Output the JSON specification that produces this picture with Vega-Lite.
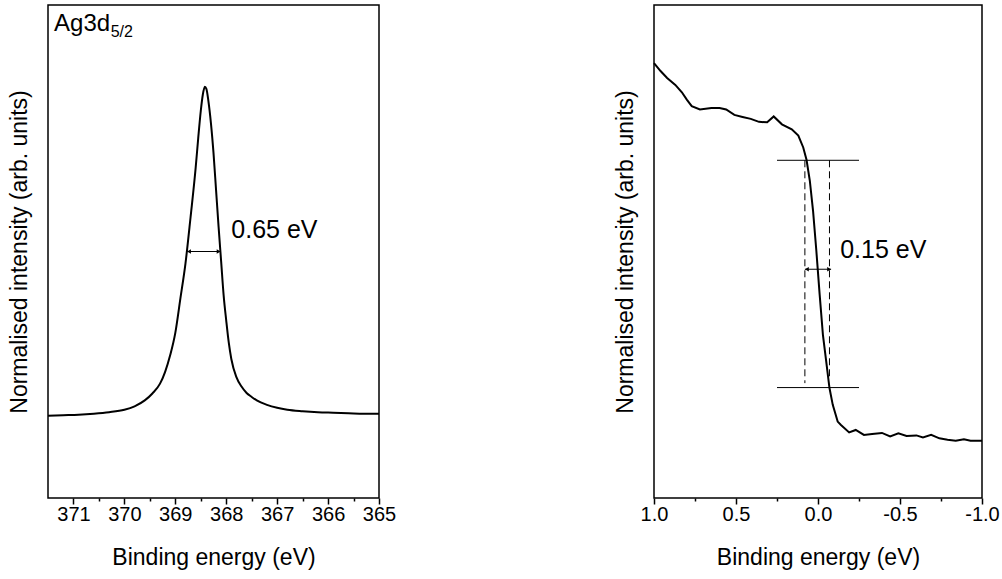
{
  "$schema": "https://vega.github.io/schema/vega-lite/v6.json",
  "padding": {"left": 7, "top": 4, "right": 0, "bottom": 0},
  "spacing": 216,
  "config": {
    "font": "Liberation Sans",
    "view": {"stroke": "black", "strokeWidth": 1.5},
    "axis": {
      "grid": false, "domain": false, "tickColor": "black", "tickWidth": 1.5,
      "labelColor": "black", "titleColor": "black", "labelFlush": false, "labelOverlap": false,
      "labelFont": "Liberation Sans", "titleFont": "Liberation Sans",
      "titleFontWeight": "normal", "labelFontSize": 20, "titleFontSize": 23
    },
    "text": {"font": "Liberation Sans", "color": "black"}
  },
  "hconcat": [
    {
      "width": 331, "height": 493,
      "resolve": {"axis": {"x": "independent", "y": "independent"}},
      "layer": [
        {
          "data": {"values": [
            {"be": 371.5, "intensity": 0.167}, {"be": 371.2, "intensity": 0.168}, {"be": 370.9, "intensity": 0.169},
            {"be": 370.6, "intensity": 0.171}, {"be": 370.3, "intensity": 0.174}, {"be": 370.0, "intensity": 0.179},
            {"be": 369.8, "intensity": 0.186}, {"be": 369.6, "intensity": 0.198}, {"be": 369.45, "intensity": 0.212},
            {"be": 369.3, "intensity": 0.232}, {"be": 369.2, "intensity": 0.256}, {"be": 369.1, "intensity": 0.29},
            {"be": 369.0, "intensity": 0.335}, {"be": 368.9, "intensity": 0.405}, {"be": 368.8, "intensity": 0.476},
            {"be": 368.7, "intensity": 0.57}, {"be": 368.6, "intensity": 0.67}, {"be": 368.55, "intensity": 0.73},
            {"be": 368.5, "intensity": 0.785}, {"be": 368.46, "intensity": 0.818}, {"be": 368.42, "intensity": 0.834},
            {"be": 368.39, "intensity": 0.83}, {"be": 368.35, "intensity": 0.805}, {"be": 368.3, "intensity": 0.76},
            {"be": 368.25, "intensity": 0.7}, {"be": 368.2, "intensity": 0.625}, {"be": 368.15, "intensity": 0.55},
            {"be": 368.1, "intensity": 0.48}, {"be": 368.05, "intensity": 0.41}, {"be": 368.0, "intensity": 0.36},
            {"be": 367.95, "intensity": 0.315}, {"be": 367.9, "intensity": 0.282}, {"be": 367.8, "intensity": 0.245},
            {"be": 367.7, "intensity": 0.226}, {"be": 367.6, "intensity": 0.213}, {"be": 367.5, "intensity": 0.205},
            {"be": 367.4, "intensity": 0.198}, {"be": 367.2, "intensity": 0.189}, {"be": 367.0, "intensity": 0.183},
            {"be": 366.8, "intensity": 0.179}, {"be": 366.5, "intensity": 0.176}, {"be": 366.2, "intensity": 0.174},
            {"be": 365.9, "intensity": 0.173}, {"be": 365.6, "intensity": 0.172}, {"be": 365.3, "intensity": 0.171},
            {"be": 365.0, "intensity": 0.171}
          ]},
          "mark": {"type": "line", "color": "black", "strokeWidth": 2, "interpolate": "monotone"},
          "encoding": {
            "x": {"field": "be", "type": "quantitative",
              "scale": {"domain": [365, 371.5], "reverse": true, "nice": false, "zero": false},
              "axis": {"orient": "bottom", "values": [365, 366, 367, 368, 369, 370, 371], "format": "d", "tickSize": 6,
                "labelPadding": 0, "title": "Binding energy (eV)", "titlePadding": 22}},
            "y": {"field": "intensity", "type": "quantitative",
              "scale": {"domain": [0, 1], "nice": false, "zero": false},
              "axis": {"title": "Normalised intensity (arb. units)", "labels": false, "ticks": false, "titlePadding": 17}}
          }
        },
        {
          "data": {"values": [{}]},
          "mark": {"type": "rule", "color": "black", "strokeWidth": 1},
          "encoding": {
            "x": {"datum": 368.77, "type": "quantitative",
              "scale": {"domain": [365, 371.5], "reverse": true, "nice": false, "zero": false},
              "axis": {"orient": "bottom", "values": [365.5, 366.5, 367.5, 368.5, 369.5, 370.5], "labels": false, "tickSize": 3, "title": null}},
            "x2": {"datum": 368.11},
            "y": {"datum": 0.5, "type": "quantitative", "scale": {"domain": [0, 1], "nice": false, "zero": false}, "axis": null}
          }
        },
        {
          "data": {"values": [{}]},
          "mark": {"type": "point", "shape": "triangle-left", "filled": true, "color": "black", "size": 20, "opacity": 1, "xOffset": 2},
          "encoding": {
            "x": {"datum": 368.77, "type": "quantitative", "scale": {"domain": [365, 371.5], "reverse": true, "nice": false, "zero": false}, "axis": null},
            "y": {"datum": 0.5, "type": "quantitative", "scale": {"domain": [0, 1], "nice": false, "zero": false}, "axis": null}
          }
        },
        {
          "data": {"values": [{}]},
          "mark": {"type": "point", "shape": "triangle-right", "filled": true, "color": "black", "size": 20, "opacity": 1, "xOffset": -2},
          "encoding": {
            "x": {"datum": 368.11, "type": "quantitative", "scale": {"domain": [365, 371.5], "reverse": true, "nice": false, "zero": false}, "axis": null},
            "y": {"datum": 0.5, "type": "quantitative", "scale": {"domain": [0, 1], "nice": false, "zero": false}, "axis": null}
          }
        },
        {
          "data": {"values": [{}]},
          "mark": {"type": "text", "text": "0.65 eV", "fontSize": 25, "align": "left", "baseline": "alphabetic"},
          "encoding": {
            "x": {"datum": 367.9, "type": "quantitative", "scale": {"domain": [365, 371.5], "reverse": true, "nice": false, "zero": false}, "axis": null},
            "y": {"datum": 0.528, "type": "quantitative", "scale": {"domain": [0, 1], "nice": false, "zero": false}, "axis": null}
          }
        },
        {
          "data": {"values": [{}]},
          "mark": {"type": "text", "text": "Ag3d", "fontSize": 24, "align": "left", "baseline": "alphabetic"},
          "encoding": {
            "x": {"datum": 371.38, "type": "quantitative", "scale": {"domain": [365, 371.5], "reverse": true, "nice": false, "zero": false}, "axis": null},
            "y": {"datum": 0.947, "type": "quantitative", "scale": {"domain": [0, 1], "nice": false, "zero": false}, "axis": null}
          }
        },
        {
          "data": {"values": [{}]},
          "mark": {"type": "text", "text": "5/2", "fontSize": 16, "align": "left", "baseline": "alphabetic"},
          "encoding": {
            "x": {"datum": 370.27, "type": "quantitative", "scale": {"domain": [365, 371.5], "reverse": true, "nice": false, "zero": false}, "axis": null},
            "y": {"datum": 0.935, "type": "quantitative", "scale": {"domain": [0, 1], "nice": false, "zero": false}, "axis": null}
          }
        }
      ]
    },
    {
      "width": 328, "height": 493,
      "resolve": {"axis": {"x": "independent", "y": "independent"}},
      "layer": [
        {
          "data": {"values": [
            {"be": 1.0, "intensity": 0.882}, {"be": 0.96, "intensity": 0.866}, {"be": 0.92, "intensity": 0.852},
            {"be": 0.87, "intensity": 0.838}, {"be": 0.83, "intensity": 0.823}, {"be": 0.8, "intensity": 0.808},
            {"be": 0.77, "intensity": 0.795}, {"be": 0.72, "intensity": 0.788}, {"be": 0.65, "intensity": 0.791},
            {"be": 0.6, "intensity": 0.791}, {"be": 0.56, "intensity": 0.788}, {"be": 0.51, "intensity": 0.777},
            {"be": 0.46, "intensity": 0.773}, {"be": 0.41, "intensity": 0.769}, {"be": 0.36, "intensity": 0.763},
            {"be": 0.31, "intensity": 0.762}, {"be": 0.27, "intensity": 0.774}, {"be": 0.22, "intensity": 0.758},
            {"be": 0.16, "intensity": 0.748}, {"be": 0.12, "intensity": 0.735}, {"be": 0.09, "intensity": 0.711},
            {"be": 0.07, "intensity": 0.686}, {"be": 0.05, "intensity": 0.644}, {"be": 0.03, "intensity": 0.582},
            {"be": 0.01, "intensity": 0.501}, {"be": -0.01, "intensity": 0.413}, {"be": -0.03, "intensity": 0.331},
            {"be": -0.05, "intensity": 0.277}, {"be": -0.07, "intensity": 0.223}, {"be": -0.09, "intensity": 0.189},
            {"be": -0.12, "intensity": 0.155}, {"be": -0.14, "intensity": 0.148}, {"be": -0.19, "intensity": 0.133},
            {"be": -0.23, "intensity": 0.138}, {"be": -0.28, "intensity": 0.128}, {"be": -0.33, "intensity": 0.13},
            {"be": -0.39, "intensity": 0.132}, {"be": -0.44, "intensity": 0.125}, {"be": -0.49, "intensity": 0.131},
            {"be": -0.54, "intensity": 0.126}, {"be": -0.6, "intensity": 0.127}, {"be": -0.64, "intensity": 0.123},
            {"be": -0.69, "intensity": 0.128}, {"be": -0.74, "intensity": 0.121}, {"be": -0.79, "intensity": 0.118},
            {"be": -0.84, "intensity": 0.116}, {"be": -0.89, "intensity": 0.119}, {"be": -0.93, "intensity": 0.116},
            {"be": -1.0, "intensity": 0.116}
          ]},
          "mark": {"type": "line", "color": "black", "strokeWidth": 2},
          "encoding": {
            "x": {"field": "be", "type": "quantitative",
              "scale": {"domain": [-1, 1], "reverse": true, "nice": false, "zero": false},
              "axis": {"orient": "bottom", "values": [-1, -0.5, 0, 0.5, 1], "labelExpr": "replace(format(datum.value, '.1f'), '\u2212', '-')",
                "tickSize": 6, "labelPadding": 0, "title": "Binding energy (eV)", "titlePadding": 22}},
            "y": {"field": "intensity", "type": "quantitative",
              "scale": {"domain": [0, 1], "nice": false, "zero": false},
              "axis": {"title": "Normalised intensity (arb. units)", "labels": false, "ticks": false, "titlePadding": 17}}
          }
        },
        {
          "data": {"values": [{}]},
          "mark": {"type": "rule", "color": "black", "strokeWidth": 1},
          "encoding": {
            "x": {"datum": 0.25, "type": "quantitative",
              "scale": {"domain": [-1, 1], "reverse": true, "nice": false, "zero": false},
              "axis": {"orient": "bottom", "values": [-0.75, -0.25, 0.25, 0.75], "labels": false, "tickSize": 3, "title": null}},
            "x2": {"datum": -0.25},
            "y": {"datum": 0.685, "type": "quantitative", "scale": {"domain": [0, 1], "nice": false, "zero": false}, "axis": null}
          }
        },
        {
          "data": {"values": [{}]},
          "mark": {"type": "rule", "color": "black", "strokeWidth": 1},
          "encoding": {
            "x": {"datum": 0.25, "type": "quantitative", "scale": {"domain": [-1, 1], "reverse": true, "nice": false, "zero": false}, "axis": null},
            "x2": {"datum": -0.25},
            "y": {"datum": 0.224, "type": "quantitative", "scale": {"domain": [0, 1], "nice": false, "zero": false}, "axis": null}
          }
        },
        {
          "data": {"values": [{}]},
          "mark": {"type": "rule", "color": "black", "strokeWidth": 1, "strokeDash": [7, 4]},
          "encoding": {
            "x": {"datum": 0.08, "type": "quantitative", "scale": {"domain": [-1, 1], "reverse": true, "nice": false, "zero": false}, "axis": null},
            "y": {"datum": 0.685, "type": "quantitative", "scale": {"domain": [0, 1], "nice": false, "zero": false}, "axis": null},
            "y2": {"datum": 0.233}
          }
        },
        {
          "data": {"values": [{}]},
          "mark": {"type": "rule", "color": "black", "strokeWidth": 1, "strokeDash": [7, 4]},
          "encoding": {
            "x": {"datum": -0.07, "type": "quantitative", "scale": {"domain": [-1, 1], "reverse": true, "nice": false, "zero": false}, "axis": null},
            "y": {"datum": 0.685, "type": "quantitative", "scale": {"domain": [0, 1], "nice": false, "zero": false}, "axis": null},
            "y2": {"datum": 0.246}
          }
        },
        {
          "data": {"values": [{}]},
          "mark": {"type": "rule", "color": "black", "strokeWidth": 1},
          "encoding": {
            "x": {"datum": 0.08, "type": "quantitative", "scale": {"domain": [-1, 1], "reverse": true, "nice": false, "zero": false}, "axis": null},
            "x2": {"datum": -0.08},
            "y": {"datum": 0.464, "type": "quantitative", "scale": {"domain": [0, 1], "nice": false, "zero": false}, "axis": null}
          }
        },
        {
          "data": {"values": [{}]},
          "mark": {"type": "point", "shape": "triangle-left", "filled": true, "color": "black", "size": 20, "opacity": 1, "xOffset": 2},
          "encoding": {
            "x": {"datum": 0.08, "type": "quantitative", "scale": {"domain": [-1, 1], "reverse": true, "nice": false, "zero": false}, "axis": null},
            "y": {"datum": 0.464, "type": "quantitative", "scale": {"domain": [0, 1], "nice": false, "zero": false}, "axis": null}
          }
        },
        {
          "data": {"values": [{}]},
          "mark": {"type": "point", "shape": "triangle-right", "filled": true, "color": "black", "size": 20, "opacity": 1, "xOffset": -2},
          "encoding": {
            "x": {"datum": -0.08, "type": "quantitative", "scale": {"domain": [-1, 1], "reverse": true, "nice": false, "zero": false}, "axis": null},
            "y": {"datum": 0.464, "type": "quantitative", "scale": {"domain": [0, 1], "nice": false, "zero": false}, "axis": null}
          }
        },
        {
          "data": {"values": [{}]},
          "mark": {"type": "text", "text": "0.15 eV", "fontSize": 25, "align": "left", "baseline": "alphabetic"},
          "encoding": {
            "x": {"datum": -0.135, "type": "quantitative", "scale": {"domain": [-1, 1], "reverse": true, "nice": false, "zero": false}, "axis": null},
            "y": {"datum": 0.487, "type": "quantitative", "scale": {"domain": [0, 1], "nice": false, "zero": false}, "axis": null}
          }
        }
      ]
    }
  ]
}
